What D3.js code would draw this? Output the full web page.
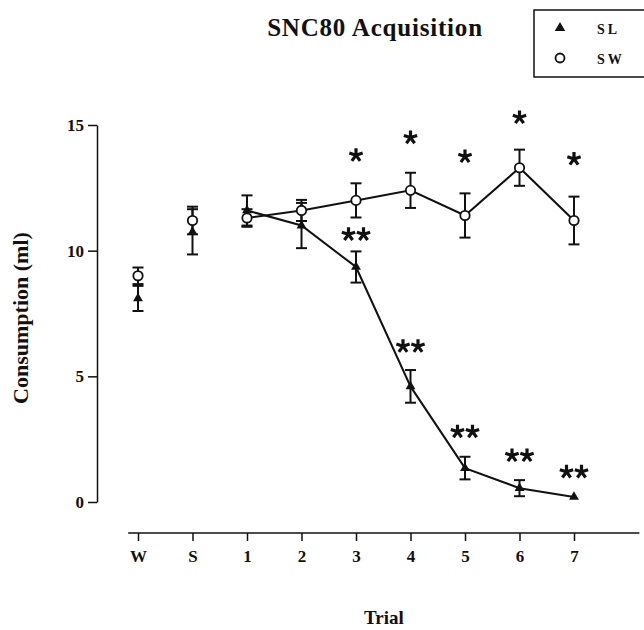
<!DOCTYPE html>
<html>
<head>
<meta charset="utf-8">
<script src="https://cdn.jsdelivr.net/npm/d3@7"></script>
<style>
  body { margin: 0; background: #fff; }
  text { font-family: "Liberation Serif", "DejaVu Serif", serif; font-weight: bold; fill: #111; }
</style>
</head>
<body>
<div id="chart"></div>
<script>
// trials on the x axis
const categories = ["W", "S", "1", "2", "3", "4", "5", "6", "7"];
const yTicks = [0, 5, 10, 15];

// SL group (filled triangles)
const slMean = [8.1, 10.75, 11.6, 11.0, 9.35, 4.6, 1.35, 0.55, 0.2];
const slErr  = [0.5, 0.9, 0.6, 0.9, 0.62, 0.65, 0.45, 0.32, 0];
// SW group (open circles)
const swMean = [9.0, 11.2, 11.3, 11.6, 12.0, 12.4, 11.4, 13.3, 11.2];
const swErr  = [0.33, 0.55, 0.35, 0.42, 0.68, 0.7, 0.88, 0.72, 0.95];

// significance marks (trial, height in ml)
const swStars = [["3", 13.8], ["4", 14.5], ["5", 13.75], ["6", 15.3], ["7", 13.65]];
const slStars = [["3", 10.65], ["4", 6.2], ["5", 2.8], ["6", 1.85], ["7", 1.2]];

const width = 644, height = 630;
const ink = "#111";

const svg = d3.select("#chart").append("svg")
    .attr("width", width)
    .attr("height", height);

const x = d3.scalePoint().domain(categories).range([138, 574]);
const y = d3.scaleLinear().domain([0, 15]).range([502, 125]);

// title
svg.append("text")
    .attr("x", 375).attr("y", 36)
    .attr("text-anchor", "middle")
    .style("font-size", "25px")
    .style("letter-spacing", "0.8px")
    .text("SNC80 Acquisition");

// legend
const lg = svg.append("g").attr("transform", "translate(534,10)");
lg.append("rect")
    .attr("width", 120).attr("height", 67)
    .attr("fill", "none").attr("stroke", ink).attr("stroke-width", 1.5);
lg.append("path")
    .attr("d", d3.symbol(d3.symbolTriangle, 48)())
    .attr("transform", "translate(26,18)")
    .attr("fill", ink);
lg.append("circle")
    .attr("cx", 26).attr("cy", 48).attr("r", 4.5)
    .attr("fill", "#fff").attr("stroke", ink).attr("stroke-width", 1.8);
lg.append("text").attr("x", 63).attr("y", 24).style("font-size", "14px")
    .style("letter-spacing", "3px").text("SL");
lg.append("text").attr("x", 63).attr("y", 54).style("font-size", "14px")
    .style("letter-spacing", "3px").text("SW");

// y axis
const yAxis = svg.append("g")
    .attr("transform", "translate(97,0)")
    .call(d3.axisLeft(y).tickValues(yTicks).tickSize(9).tickSizeOuter(0).tickPadding(4));
yAxis.select(".domain").attr("stroke", ink).attr("stroke-width", 1.5);
yAxis.selectAll(".tick line").attr("stroke", ink).attr("stroke-width", 1.5);
yAxis.selectAll(".tick text")
    .style("font-family", "Liberation Serif, serif")
    .style("font-weight", "bold")
    .style("font-size", "17px")
    .attr("fill", ink);

// x axis
const step = x.step();
const xAxis = svg.append("g")
    .attr("transform", "translate(0,533)")
    .call(d3.axisBottom(x).tickSize(8).tickSizeOuter(0).tickPadding(9));
xAxis.select(".domain")
    .attr("d", `M${x("W") - step * 0.18},0H${x("7") + step * 1.2}`)
    .attr("stroke", ink).attr("stroke-width", 1.5);
xAxis.selectAll(".tick line").attr("stroke", ink).attr("stroke-width", 1.5);
xAxis.selectAll(".tick text")
    .style("font-family", "Liberation Serif, serif")
    .style("font-weight", "bold")
    .style("font-size", "17px")
    .attr("fill", ink);

// axis titles
svg.append("text")
    .attr("transform", "translate(28,318) rotate(-90)")
    .attr("text-anchor", "middle")
    .style("font-size", "22px")
    .text("Consumption (ml)");
svg.append("text")
    .attr("x", 384).attr("y", 624)
    .attr("text-anchor", "middle")
    .style("font-size", "19px")
    .text("Trial");

const sl = categories.map((c, i) => ({ c, m: slMean[i], e: slErr[i] }));
const sw = categories.map((c, i) => ({ c, m: swMean[i], e: swErr[i] }));

const line = d3.line().x(d => x(d.c)).y(d => y(d.m));
const trials = d => d.c !== "W" && d.c !== "S";

// connecting lines (trials 1-7 only)
[sl, sw].forEach(s => {
  svg.append("path")
      .datum(s.filter(trials))
      .attr("d", line)
      .attr("fill", "none")
      .attr("stroke", ink)
      .attr("stroke-width", 2);
});

// error bars
function errorBars(s) {
  const g = svg.append("g").attr("stroke", ink).attr("stroke-width", 2);
  s.filter(d => d.e > 0).forEach(d => {
    const cx = x(d.c), y0 = y(d.m - d.e), y1 = y(d.m + d.e);
    g.append("line").attr("x1", cx).attr("x2", cx).attr("y1", y0).attr("y2", y1);
    g.append("line").attr("x1", cx - 5.5).attr("x2", cx + 5.5).attr("y1", y0).attr("y2", y0);
    g.append("line").attr("x1", cx - 5.5).attr("x2", cx + 5.5).attr("y1", y1).attr("y2", y1);
  });
}
errorBars(sl);
errorBars(sw);

// markers
svg.append("g").selectAll("path")
    .data(sl)
    .join("path")
    .attr("d", d3.symbol(d3.symbolTriangle, 42)())
    .attr("transform", d => `translate(${x(d.c)},${y(d.m)})`)
    .attr("fill", ink);

svg.append("g").selectAll("circle")
    .data(sw)
    .join("circle")
    .attr("cx", d => x(d.c))
    .attr("cy", d => y(d.m))
    .attr("r", 4.7)
    .attr("fill", "#fff")
    .attr("stroke", ink)
    .attr("stroke-width", 1.8);

// asterisks (5 arms)
const arm = 7;
const starPath = d3.range(5).map(k => {
  const a = -Math.PI / 2 + k * 2 * Math.PI / 5;
  return `M0,0L${arm * Math.cos(a)},${arm * Math.sin(a)}`;
}).join("");

function stars(list, n) {
  list.forEach(([c, v]) => {
    d3.range(n).forEach(k => {
      const dx = n === 1 ? 0 : (k - 0.5) * 15;
      svg.append("path")
          .attr("d", starPath)
          .attr("transform", `translate(${x(c) + dx},${y(v)})`)
          .attr("fill", "none")
          .attr("stroke", ink)
          .attr("stroke-width", 3.2)
          .attr("stroke-linecap", "butt");
    });
  });
}
stars(swStars, 1);
stars(slStars, 2);
</script>
</body>
</html>
